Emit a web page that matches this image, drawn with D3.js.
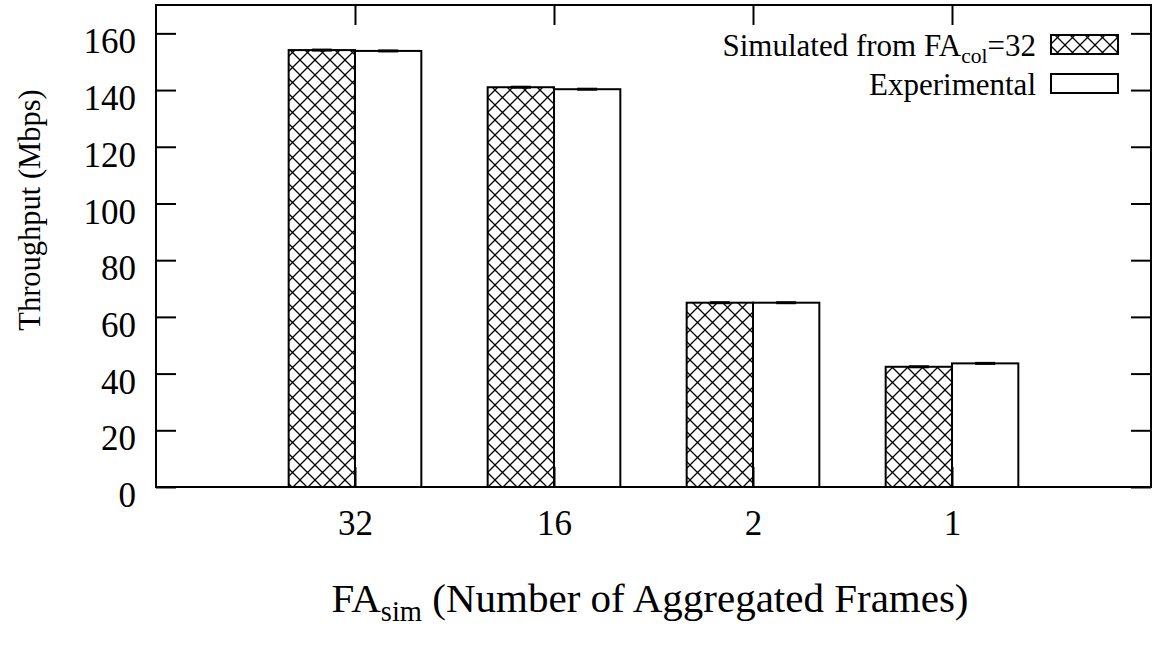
<!DOCTYPE html>
<html>
<head>
<meta charset="utf-8">
<script src="https://cdn.jsdelivr.net/npm/d3@7"></script>
</head>
<body style="margin:0">
<svg id="fig" width="1153" height="646"></svg>
<script>
// Throughput per aggregation level
const categories = ["32", "16", "2", "1"];
const simulated = [154.1, 141.0, 65.0, 42.4];
const experimental = [153.8, 140.3, 65.0, 43.6];
const yTicks = [0, 20, 40, 60, 80, 100, 120, 140, 160];
const seriesNames = ["Simulated from FA", "Experimental"];

const FONT = '"Liberation Serif"';
const frame = { left: 156, right: 1151, top: 5, bottom: 487 };

const svg = d3.select("#fig");

// crosshatch fill
const defs = svg.append("defs");
const pat = defs.append("pattern")
  .attr("id", "xhatch")
  .attr("patternUnits", "userSpaceOnUse")
  .attr("width", 15).attr("height", 15);
pat.append("rect").attr("width", 15).attr("height", 15).attr("fill", "#fff");
pat.append("path")
  .attr("d", "M-2,-2L17,17M17,-2L-2,17")
  .attr("stroke", "#000").attr("stroke-width", 1.3).attr("fill", "none");

const x = d3.scaleLinear().domain([-1, categories.length]).range([frame.left, frame.right]);
const y = d3.scaleLinear().domain([0, 170]).range([frame.bottom, frame.top]);
const barW = (x(1) - x(0)) / 3;

// bars
const groups = svg.append("g").selectAll("g")
  .data(categories.map((c, i) => ({ c, i, sim: simulated[i], exp: experimental[i] })))
  .join("g");

groups.append("rect")
  .attr("x", d => x(d.i) - barW)
  .attr("y", d => y(d.sim))
  .attr("width", barW)
  .attr("height", d => y(0) - y(d.sim))
  .attr("fill", "url(#xhatch)")
  .attr("stroke", "#000").attr("stroke-width", 2);

groups.append("rect")
  .attr("x", d => x(d.i))
  .attr("y", d => y(d.exp))
  .attr("width", barW)
  .attr("height", d => y(0) - y(d.exp))
  .attr("fill", "#fff")
  .attr("stroke", "#000").attr("stroke-width", 2);

// error-bar caps
groups.append("line")
  .attr("x1", d => x(d.i) - barW / 2 - 10).attr("x2", d => x(d.i) - barW / 2 + 10)
  .attr("y1", d => y(d.sim)).attr("y2", d => y(d.sim))
  .attr("stroke", "#000").attr("stroke-width", 3);
groups.append("line")
  .attr("x1", d => x(d.i) + barW / 2 - 10).attr("x2", d => x(d.i) + barW / 2 + 10)
  .attr("y1", d => y(d.exp)).attr("y2", d => y(d.exp))
  .attr("stroke", "#000").attr("stroke-width", 3);

// axes (ticks pointing inward, mirrored on top/right)
const idx = categories.map((c, i) => i);
const yLeft = svg.append("g").attr("transform", `translate(${frame.left},0)`)
  .call(d3.axisLeft(y).tickValues(yTicks).tickSize(-20).tickSizeOuter(0).tickPadding(20));

const yRight = svg.append("g").attr("transform", `translate(${frame.right},0)`)
  .call(d3.axisRight(y).tickValues(yTicks).tickSize(-20).tickSizeOuter(0).tickFormat(""));

const xBottom = svg.append("g").attr("transform", `translate(0,${frame.bottom})`)
  .call(d3.axisBottom(x).tickValues(idx).tickSize(-20).tickSizeOuter(0).tickPadding(23)
    .tickFormat(i => categories[i]));

const xTop = svg.append("g").attr("transform", `translate(0,${frame.top})`)
  .call(d3.axisTop(x).tickValues(idx).tickSize(-20).tickSizeOuter(0).tickFormat(""));

[yLeft, yRight, xBottom, xTop].forEach(g => {
  g.attr("font-family", null).attr("font-size", null);
  g.select(".domain").remove();
  g.selectAll(".tick line").attr("stroke", "#000").attr("stroke-width", 2);
  g.selectAll(".tick text").attr("fill", "#000")
    .style("font-family", FONT).attr("font-size", 35);
});
yLeft.selectAll(".tick text").attr("dy", "0.56em");

// plot frame
svg.append("rect")
  .attr("x", frame.left).attr("y", frame.top)
  .attr("width", frame.right - frame.left).attr("height", frame.bottom - frame.top)
  .attr("fill", "none").attr("stroke", "#000").attr("stroke-width", 2);

// axis titles
const xl = svg.append("text")
  .attr("x", 650).attr("y", 612)
  .attr("text-anchor", "middle")
  .style("font-family", FONT).attr("font-size", 41);
xl.append("tspan").text("FA");
xl.append("tspan").attr("font-size", 28.5).attr("dy", 9).text("sim");
xl.append("tspan").attr("dy", -9).text(" (Number of Aggregated Frames)");

svg.append("text")
  .attr("transform", "translate(40,210) rotate(-90)")
  .attr("text-anchor", "middle")
  .style("font-family", FONT).attr("font-size", 30.5)
  .text("Throughput (Mbps)");

// legend
const legend = svg.append("g");
const boxes = [
  { top: 35, fill: "url(#xhatch)" },
  { top: 74, fill: "#fff" }
];
legend.selectAll("rect").data(boxes).join("rect")
  .attr("x", 1051).attr("y", d => d.top)
  .attr("width", 67).attr("height", 19)
  .attr("fill", d => d.fill)
  .attr("stroke", "#000").attr("stroke-width", 2);

const l1 = legend.append("text").attr("x", 1036).attr("y", 56)
  .attr("text-anchor", "end")
  .style("font-family", FONT).attr("font-size", 31);
l1.append("tspan").text(seriesNames[0]);
l1.append("tspan").attr("font-size", 21.5).attr("dy", 7).text("col");
l1.append("tspan").attr("dy", -7).text("=32");

legend.append("text").attr("x", 1036).attr("y", 95)
  .attr("text-anchor", "end")
  .style("font-family", FONT).attr("font-size", 31)
  .text(seriesNames[1]);
</script>
</body>
</html>
